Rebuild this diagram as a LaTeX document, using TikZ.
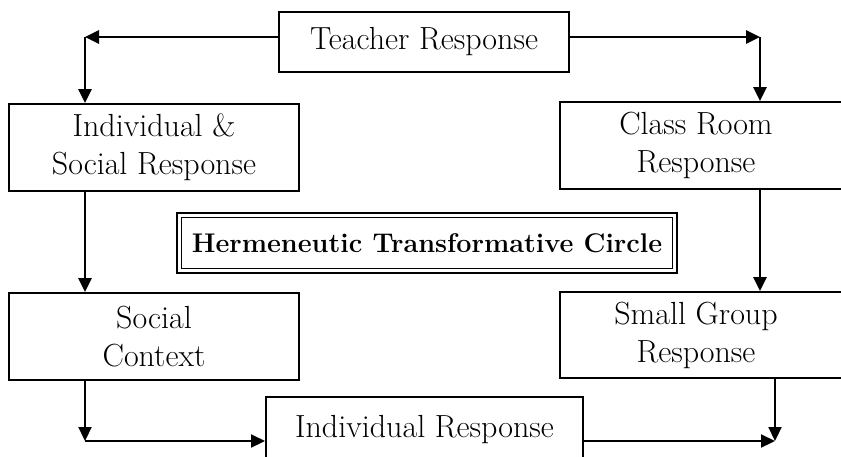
\documentclass[tikz,border=0pt]{standalone}
\usetikzlibrary{arrows.meta}
\begin{document}
\begin{tikzpicture}[x=1pt,y=-1pt,
  box/.style={draw, line width=2pt, inner sep=0pt, align=center,
    font=\fontsize{32}{38}\selectfont},
  arr/.style={line width=2.6pt, -{Triangle[length=14pt,width=13pt]}},
  arrthin/.style={line width=2.2pt, -{Triangle[length=14pt,width=13pt]}}]
\useasboundingbox (0,0) rectangle (841,456);
\fill[white] (0,0) rectangle (841,456);
\clip (0,0) rectangle (841,456);

\node[box, minimum width=290pt, minimum height=60pt] (teacher) at (424,42) {Teacher Response};
\node[box, minimum width=290pt, minimum height=87pt] (indiv) at (154,147.5) {Individual \&\\Social Response};
\node[box, minimum width=286pt, minimum height=87pt] (class) at (703,145.5) {\hspace*{-14pt}Class Room\\\hspace*{-14pt}Response};
\node[box, minimum width=290pt, minimum height=87pt] (social) at (154,336.5) {Social\\Context};
\node[box, minimum width=286pt, minimum height=86pt] (small) at (703,335) {\hspace*{-14pt}Small Group\\\hspace*{-14pt}Response};
\node[box, minimum width=317pt, minimum height=66pt] (indresp) at (424.5,430) {Individual Response};
\node[draw, line width=2.8pt, minimum width=500pt, minimum height=60pt, inner sep=0pt,
  font=\fontsize{27}{30}\selectfont\bfseries] (herm) at (427,243) {Hermeneutic Transformative Circle};
\draw[line width=1.1pt] ([shift={(6pt,-6pt)}]herm.north west) rectangle ([shift={(-6pt,6pt)}]herm.south east);

\coordinate (tl) at (85,37);
\coordinate (tr) at (760,37);
\coordinate (bl) at (85,441);
\coordinate (br) at (775,441);

\draw[arr] ([yshift=5pt]teacher.west) -- (tl);
\draw[arr] (tl) -- (indiv.north -| tl);
\draw[arr] ([yshift=5pt]teacher.east) -- (tr);
\draw[arr] (tr) -- (class.north -| tr);
\draw[arr] (indiv.south -| tl) -- (social.north -| tl);
\draw[arr] (class.south -| tr) -- (small.north -| tr);
\draw[arrthin] (social.south -| bl) -- (bl);
\draw[arrthin] (bl) -- (indresp.west |- bl);
\draw[arrthin] (small.south -| br) -- (br);
\draw[arrthin] (indresp.east |- br) -- (br);
\end{tikzpicture}
\end{document}
